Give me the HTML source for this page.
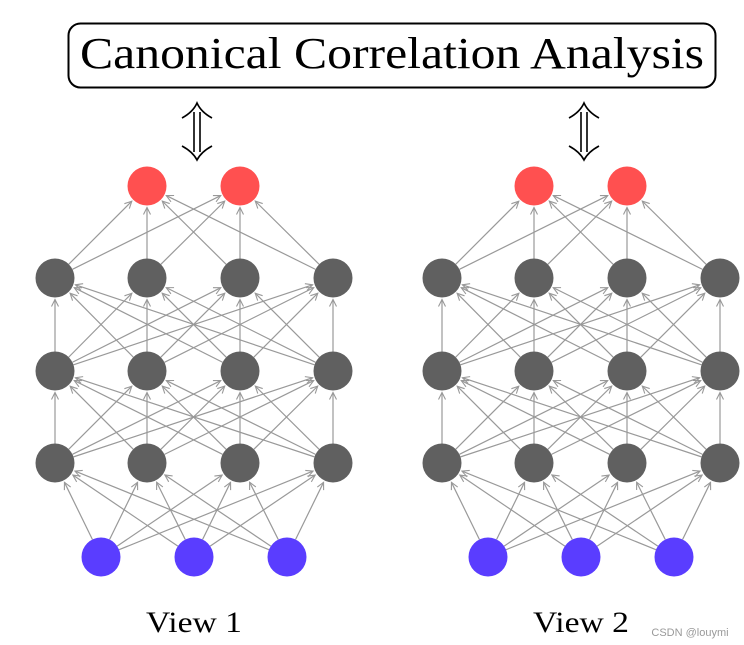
<!DOCTYPE html>
<html><head><meta charset="utf-8"><style>
body{margin:0;background:#fff;width:744px;height:645px;overflow:hidden}
svg{display:block}
</style></head><body>
<svg id="s" width="744" height="645" xmlns="http://www.w3.org/2000/svg">
<defs><marker id="a" markerWidth="10" markerHeight="10" refX="8" refY="5" orient="auto" markerUnits="userSpaceOnUse"><path d="M1,1.5 L8,5 L1,8.5" fill="none" stroke="#999" stroke-width="1.1"/></marker></defs>
<rect x="68.5" y="23.5" width="647" height="64" rx="12" fill="#fff" stroke="#000" stroke-width="2"/>
<text x="80" y="68" textLength="624" lengthAdjust="spacingAndGlyphs" font-family="Liberation Serif, serif" font-size="44" fill="#000">Canonical Correlation Analysis</text>
<text x="146" y="632" textLength="96" lengthAdjust="spacingAndGlyphs" font-family="Liberation Serif, serif" font-size="30" fill="#000">View 1</text>
<text x="533" y="632" textLength="96" lengthAdjust="spacingAndGlyphs" font-family="Liberation Serif, serif" font-size="30" fill="#000">View 2</text>
<text x="690" y="636" text-anchor="middle" font-family="Liberation Sans, sans-serif" font-size="11" fill="#999">CSDN @louymi</text>
<g id="g"></g>
</svg>
<script>
var g=document.getElementById('g'),NS='http://www.w3.org/2000/svg';
function el(t,a){var e=document.createElementNS(NS,t);for(var k in a)e.setAttribute(k,a[k]);g.appendChild(e);return e;}
function dbl(cx){
 var p='M'+(cx-3)+',112 L'+(cx-3)+',152 M'+(cx+3)+',112 L'+(cx+3)+',152 M'+(cx-15)+',118 Q'+(cx-4)+',112 '+cx+',103 Q'+(cx+4)+',112 '+(cx+15)+',118 M'+(cx-15)+',146 Q'+(cx-4)+',152 '+cx+',160 Q'+(cx+4)+',152 '+(cx+15)+',146';
 el('path',{d:p,fill:'none',stroke:'#000','stroke-width':1.6});
}
function net(ox){
 var R=19.5;
 var L=[
  {y:557,xs:[101,194,287],c:'#5a3dff'},
  {y:463,xs:[55,147,240,333],c:'#606060'},
  {y:371,xs:[55,147,240,333],c:'#606060'},
  {y:278,xs:[55,147,240,333],c:'#606060'},
  {y:186,xs:[147,240],c:'#ff5050'}];
 for(var i=0;i<4;i++){var A=L[i],B=L[i+1];
  A.xs.forEach(function(x1){B.xs.forEach(function(x2){
   var X1=x1+ox,Y1=A.y,X2=x2+ox,Y2=B.y,dx=X2-X1,dy=Y2-Y1,d=Math.hypot(dx,dy),ux=dx/d,uy=dy/d;
   el('line',{x1:X1+ux*R,y1:Y1+uy*R,x2:X2-ux*(R+2),y2:Y2-uy*(R+2),stroke:'#999','stroke-width':1.2,'marker-end':'url(#a)'});
  });});}
 L.forEach(function(l){l.xs.forEach(function(x){el('circle',{cx:x+ox,cy:l.y,r:R,fill:l.c});});});
}
net(0);net(387);dbl(197);dbl(584);
</script>
</body></html>
